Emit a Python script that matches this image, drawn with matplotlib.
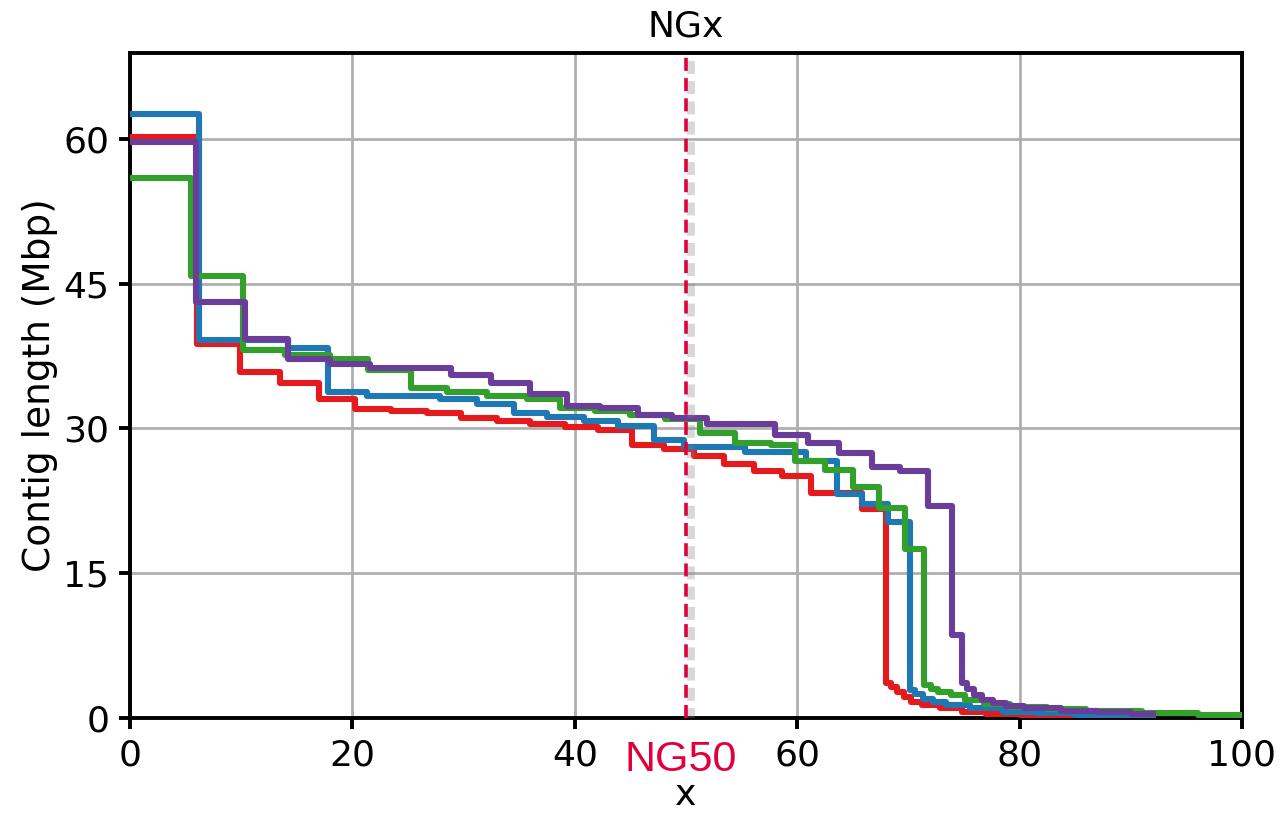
import matplotlib
matplotlib.use("Agg")
from matplotlib import pyplot as plt
import matplotlib.patheffects as pe
import matplotlib.transforms as mtransforms

# step start positions (x, %) and contig lengths (Mbp) for each assembly
red_x = [0, 6.0, 9.9, 13.5, 17.0, 20.2, 23.5, 26.7, 29.8, 33.0, 36.0, 39.1, 42.1, 45.1, 48.0,
         50.7, 53.4, 56.1, 58.6, 61.2, 65.8, 68.0, 68.4, 69.0, 69.6, 70.2, 71.2, 72.8, 74.8,
         77.0, 80.0, 84.0]
red_y = [60.2, 38.8, 35.8, 34.7, 33.0, 32.0, 31.8, 31.6, 31.1, 30.8, 30.5, 30.2, 29.8, 28.3, 27.9,
         27.1, 26.3, 25.6, 25.1, 23.3, 21.7, 3.6, 3.2, 2.7, 2.2, 1.7, 1.35, 1.0, 0.65,
         0.4, 0.3, 0.2]
red_end = 88

blue_x = [0, 6.2, 14.2, 17.8, 21.3, 27.9, 31.2, 34.5, 37.5, 40.8, 43.9, 47.1, 49.8, 55.3, 60.8,
          63.6, 65.8, 68.2, 70.1, 70.6, 71.3, 72.2, 73.4, 75.5, 78.5, 81.5, 85.0, 89.0]
blue_y = [62.6, 39.2, 38.3, 33.8, 33.4, 33.0, 32.5, 31.6, 31.2, 30.8, 30.3, 28.8, 28.1, 27.6, 26.6,
          23.2, 22.2, 20.3, 2.9, 2.5, 2.0, 1.7, 1.35, 1.0, 0.65, 0.5, 0.35, 0.25]
blue_end = 92

green_x = [0, 5.5, 10.2, 13.9, 18.0, 21.4, 25.3, 28.5, 32.1, 35.7, 38.7, 41.8, 45.0, 48.1, 51.3,
           54.4, 57.6, 59.8, 62.5, 65.0, 67.4, 69.7, 71.4, 72.0, 72.7, 73.8, 75.1, 76.8, 79.1,
           82.5, 86.0, 91.0, 96.0]
green_y = [55.9, 45.8, 38.1, 37.6, 37.2, 36.1, 34.2, 33.8, 33.4, 33.0, 32.1, 31.8, 31.4, 31.0, 29.5,
           28.5, 28.3, 26.6, 25.7, 23.9, 21.8, 17.5, 3.4, 3.0, 2.7, 2.4, 1.9, 1.45, 1.1,
           0.9, 0.7, 0.5, 0.3]
green_end = 100

purple_x = [0, 5.9, 10.3, 14.2, 18.0, 21.6, 28.9, 32.5, 36.0, 39.3, 42.3, 45.7, 48.7, 51.9, 58.0,
            61.0, 63.8, 66.7, 69.2, 71.8, 73.9, 74.8, 75.3, 75.9, 76.6, 77.6, 78.8, 80.4, 83.7,
            87.0, 90.0]
purple_y = [59.7, 43.1, 39.3, 37.2, 36.7, 36.3, 35.5, 34.7, 33.6, 32.3, 32.1, 31.4, 31.1, 30.5, 29.3,
            28.5, 27.5, 26.0, 25.6, 22.0, 8.6, 3.6, 3.0, 2.4, 1.9, 1.55, 1.2, 1.0, 0.75,
            0.6, 0.45]
purple_end = 92

series = [
    (red_x, red_y, red_end, "#e41a1c"),
    (blue_x, blue_y, blue_end, "#1f78b4"),
    (green_x, green_y, green_end, "#33a02c"),
    (purple_x, purple_y, purple_end, "#6a3d9a"),
]

ng_level = 50
x_ticks = [0, 20, 40, 60, 80, 100]
y_ticks = [0, 15, 30, 45, 60]

fig = plt.figure(figsize=(6.4, 4.075), dpi=200)
ax = fig.add_axes([0.1016, 0.119, 0.8687, 0.816])

for xs, ys, end, c in series:
    ax.step(xs + [end], ys + [ys[-1]], where="post", color=c, lw=2.2, zorder=3)

# NG50 marker
ax.axvline(ng_level, color="#e0003c", lw=1.3, ls=(0, (3.6, 2)), zorder=4,
           path_effects=[pe.SimpleLineShadow(offset=(1.8, -1.0), shadow_color="gray",
                                             alpha=0.3, linewidth=2.8),
                         pe.Normal()])
trans = mtransforms.blended_transform_factory(ax.transData, ax.transAxes)
ax.text(ng_level - 0.5, -0.033, "NG%d" % ng_level, transform=trans, ha="center", va="top",
        color="#e0003c", fontsize=15.5, family="Liberation Sans")

ax.set_xlim(0, 100)
ax.set_ylim(0, 68.9)
ax.set_xticks(x_ticks)
ax.set_yticks(y_ticks)
ax.grid(True, color="#b0b0b0", lw=1.0)
ax.set_axisbelow(True)
for s in ax.spines.values():
    s.set_linewidth(1.4)
ax.tick_params(width=1.4, length=4, labelsize=13)

ax.set_title("NGx", fontsize=13)
ax.set_xlabel("x", fontsize=13, labelpad=2)
ax.set_ylabel("Contig length (Mbp)", fontsize=13.5, labelpad=2)

fig.savefig("out.png", dpi=200)
